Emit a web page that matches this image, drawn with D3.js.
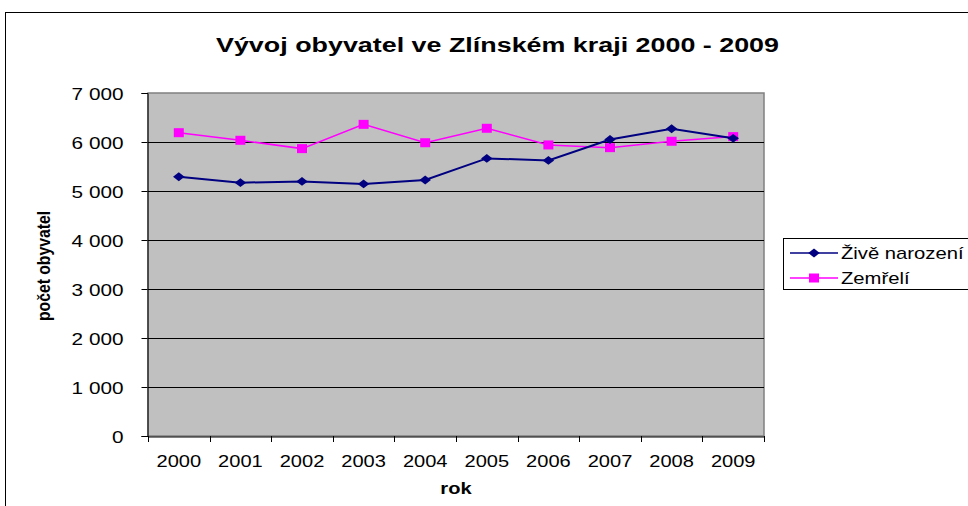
<!DOCTYPE html>
<html>
<head>
<meta charset="utf-8">
<script src="https://cdn.jsdelivr.net/npm/d3@7"></script>
<style>
  body { margin: 0; background: #fff; }
  svg { display: block; font-family: "Liberation Sans", Arial, sans-serif; }
</style>
</head>
<body>
<div id="chart"></div>
<script>
// data
var years = ["2000", "2001", "2002", "2003", "2004", "2005", "2006", "2007", "2008", "2009"];
var zive = [5290, 5170, 5195, 5145, 5225, 5665, 5625, 6050, 6270, 6075];
var zemreli = [6190, 6035, 5865, 6360, 5985, 6280, 5940, 5885, 6015, 6110];
var yTicks = [0, 1000, 2000, 3000, 4000, 5000, 6000, 7000];

var W = 968, H = 506;
var plot = {left: 148, top: 93, right: 764, bottom: 436};
var FONT = '"Liberation Sans", Arial, sans-serif';
var stretch = 1.18; // the original text is a bit wider than plain Arial

var svg = d3.select('#chart').append('svg')
  .attr('width', W).attr('height', H);

// widen text a bit, like the source picture
function widen(sel, k) {
  sel.each(function() {
    var w = this.getComputedTextLength();
    d3.select(this).attr('textLength', w * k).attr('lengthAdjust', 'spacingAndGlyphs');
  });
}

// outer chart frame (goes off the right/bottom edge)
svg.append('rect')
  .attr('x', 5.5).attr('y', 12.5)
  .attr('width', W + 10).attr('height', H + 10)
  .attr('fill', '#fff').attr('stroke', '#000').attr('stroke-width', 1);

var x = d3.scaleBand().domain(years).range([plot.left, plot.right]);
var y = d3.scaleLinear().domain([0, 7000]).range([plot.bottom, plot.top]);

// plot area
svg.append('rect')
  .attr('x', plot.left).attr('y', plot.top)
  .attr('width', plot.right - plot.left).attr('height', plot.bottom - plot.top)
  .attr('fill', '#c0c0c0').attr('stroke', '#808080').attr('stroke-width', 1.5);

// gridlines
svg.append('g').selectAll('line')
  .data(yTicks.filter(function(d) { return d > 0 && d < 7000; }))
  .join('line')
  .attr('x1', plot.left).attr('x2', plot.right)
  .attr('y1', function(d) { return Math.round(y(d)) + 0.5; })
  .attr('y2', function(d) { return Math.round(y(d)) + 0.5; })
  .attr('stroke', '#000').attr('stroke-width', 1);

// y axis
var yAxis = svg.append('g')
  .attr('transform', 'translate(' + (plot.left - 0.5) + ',0)')
  .call(d3.axisLeft(y).tickValues(yTicks).tickSize(6).tickPadding(18)
    .tickFormat(function(d) { return d3.format(',')(d).replace(',', ' '); }));
yAxis.select('.domain').attr('stroke', '#000');
yAxis.selectAll('.tick line').attr('stroke', '#000');
yAxis.selectAll('text')
  .attr('font-size', 17).attr('fill', '#000')
  .attr('font-family', FONT)
  .attr('dy', '0.36em')
  .call(widen, 1.22);

// x axis: ticks at category boundaries
var xAxis = svg.append('g')
  .attr('transform', 'translate(0,' + (plot.bottom + 0.5) + ')')
  .call(d3.axisBottom(x).tickSize(0));
xAxis.select('.domain').attr('stroke', '#000');
xAxis.selectAll('text')
  .attr('font-size', 17).attr('fill', '#000')
  .attr('font-family', FONT)
  .attr('y', 466 - plot.bottom).attr('dy', 0)
  .call(widen, stretch);
svg.append('g').selectAll('line')
  .data(years.concat(['end']))
  .join('line')
  .attr('x1', function(d, i) { return Math.round(plot.left + i * x.bandwidth()) + 0.5; })
  .attr('x2', function(d, i) { return Math.round(plot.left + i * x.bandwidth()) + 0.5; })
  .attr('y1', plot.bottom).attr('y2', plot.bottom + 6)
  .attr('stroke', '#000');

var cx = function(d, i) { return x(years[i]) + x.bandwidth() / 2; };
var line = d3.line().x(cx).y(function(d) { return y(d); });
var diamond = d3.symbol().type(d3.symbolDiamond2).size(50);

// Zemřelí
svg.append('path').datum(zemreli)
  .attr('d', line).attr('fill', 'none')
  .attr('stroke', '#ff00ff').attr('stroke-width', 1.5);
svg.append('g').selectAll('rect').data(zemreli).join('rect')
  .attr('x', function(d, i) { return cx(d, i) - 5; })
  .attr('y', function(d) { return y(d) - 4.5; })
  .attr('width', 10).attr('height', 9)
  .attr('fill', '#ff00ff');

// Živě narození
svg.append('path').datum(zive)
  .attr('d', line).attr('fill', 'none')
  .attr('stroke', '#000080').attr('stroke-width', 2);
svg.append('g').selectAll('path').data(zive).join('path')
  .attr('d', diamond)
  .attr('transform', function(d, i) { return 'translate(' + cx(d, i) + ',' + y(d) + ') scale(1.3,1)'; })
  .attr('fill', '#000080');

// title
svg.append('text')
  .attr('x', 216).attr('y', 52)
  .attr('font-size', 20).attr('font-weight', 'bold')
  .attr('textLength', 563).attr('lengthAdjust', 'spacingAndGlyphs')
  .text('Vývoj obyvatel ve Zlínském kraji 2000 - 2009');

// axis titles
svg.append('text')
  .attr('x', 456).attr('y', 494)
  .attr('text-anchor', 'middle')
  .attr('font-size', 17).attr('font-weight', 'bold')
  .text('rok')
  .call(widen, stretch);
svg.append('text')
  .attr('transform', 'translate(50,266) rotate(-90)')
  .attr('text-anchor', 'middle')
  .attr('font-size', 18).attr('font-weight', 'bold')
  .attr('textLength', 110).attr('lengthAdjust', 'spacingAndGlyphs')
  .text('počet obyvatel');

// legend
var lg = svg.append('g');
lg.append('rect')
  .attr('x', 783.5).attr('y', 238.5)
  .attr('width', 200).attr('height', 51)
  .attr('fill', '#fff').attr('stroke', '#000');
var legendItems = [
  {name: 'Živě narození', color: '#000080', kind: 'diamond'},
  {name: 'Zemřelí', color: '#ff00ff', kind: 'square'}
];
legendItems.forEach(function(d, i) {
  var ly = 253 + i * 25;
  lg.append('line')
    .attr('x1', 790).attr('x2', 838).attr('y1', ly).attr('y2', ly)
    .attr('stroke', d.color).attr('stroke-width', 1.5);
  if (d.kind === 'diamond') {
    lg.append('path').attr('d', diamond)
      .attr('transform', 'translate(814,' + ly + ') scale(1.3,1)')
      .attr('fill', d.color);
  } else {
    lg.append('rect')
      .attr('x', 809).attr('y', ly - 4.5).attr('width', 10).attr('height', 9)
      .attr('fill', d.color);
  }
  lg.append('text')
    .attr('x', 841).attr('y', ly + 6)
    .attr('font-size', 17)
    .text(d.name)
    .call(widen, 1.19);
});
</script>
</body>
</html>
